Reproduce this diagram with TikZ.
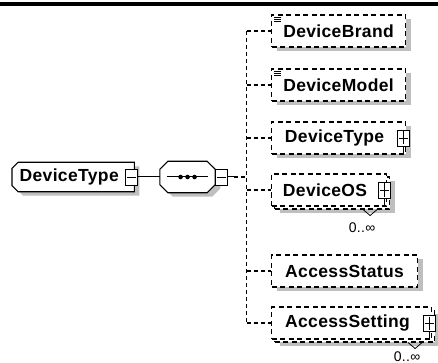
\documentclass[tikz,border=0pt]{standalone}
\usepackage{fontspec}
\setmainfont{Liberation Sans}[LetterSpace=2]
\usepackage{tikz}
\usetikzlibrary{calc,positioning,shadows,backgrounds}
\definecolor{shade}{gray}{0.75}

\begin{document}
\begin{tikzpicture}
    [x=1pt,y=-1pt,
    every node/.style={font=\fontsize{17.5}{20}\selectfont\bfseries},
    conn/.style={line width=1.1pt,dash pattern=on 4pt off 3pt},
    elembox/.style={draw,line width=1.1pt,dash pattern=on 5pt off 3.5pt,fill=white,
      minimum height=32pt,inner xsep=4pt,anchor=west},
    elem/.style={elembox,
      drop shadow={shadow xshift=5pt,shadow yshift=-4pt,fill=shade,opacity=1}},
    multi/.style={elembox,
      drop shadow={shadow xshift=8pt,shadow yshift=-7pt,fill=shade,opacity=1},
      copy shadow={shadow xshift=3pt,shadow yshift=-3pt,draw,fill=white,
        line width=1.1pt,dash pattern=on 5pt off 3.5pt}},
    haskids/.style={execute at end node={\hspace*{8pt}}},
    rootbox/.style={minimum width=122pt,minimum height=29pt,inner xsep=0pt,anchor=west},
    seqbox/.style={minimum width=55pt,minimum height=31pt,inner sep=0pt},
    outline/.style={draw,line width=1.1pt,fill=white,
      drop shadow={shadow xshift=5pt,shadow yshift=-4pt,fill=shade,opacity=1}},
    minusbox/.style={draw,solid,line width=0.9pt,fill=white,inner sep=0pt,
      minimum width=12pt,minimum height=16pt,
      path picture={\draw[line width=0.9pt] ([xshift=1.5pt]path picture bounding box.west)
        -- ([xshift=-1.5pt]path picture bounding box.east);}},
    plusbox/.style={minusbox,
      path picture={\draw[line width=0.9pt] ([xshift=1.5pt]path picture bounding box.west)
        -- ([xshift=-1.5pt]path picture bounding box.east)
        ([yshift=-1.5pt]path picture bounding box.north)
        -- ([yshift=1.5pt]path picture bounding box.south);}},
    occ/.style={font=\fontsize{14}{16}\selectfont,inner sep=0pt}]
  \useasboundingbox (0,0) rectangle (438,363);
  \fill (0,2.5) rectangle (438,6.5);

  % root element and sequence
  \node[rootbox,execute at end node={\hspace*{8pt}}] (root) at (12,177) {DeviceType};
  \node[minusbox] (rootminus) at ([xshift=-3pt]root.east) {};
  \node[seqbox,right=22pt of rootminus] (seq) {};
  \begin{scope}[on background layer]
    \path[outline] ([xshift=6pt]root.north west) -- (root.north east)
      -- (root.south east) -- ([xshift=6pt]root.south west)
      -- ([yshift=6pt]root.south west) -- ([yshift=-6pt]root.north west) -- cycle;
    \path[outline] ([xshift=8pt]seq.north west) -- ([xshift=-8pt]seq.north east)
      -- ([yshift=-8pt]seq.north east) -- ([yshift=8pt]seq.south east)
      -- ([xshift=-8pt]seq.south east) -- ([xshift=8pt]seq.south west)
      -- ([yshift=8pt]seq.south west) -- ([yshift=-8pt]seq.north west) -- cycle;
  \end{scope}
  \draw[line width=1pt] ([xshift=7pt]seq.west) -- ([xshift=-7pt]seq.east);
  \foreach \dx in {-7pt,0pt,7pt}
    \fill ([xshift=\dx]seq.center) circle (2.3pt);
  \node[minusbox] (seqminus) at ([xshift=6pt]seq.east) {};
  \coordinate[right=19pt of seqminus] (spine);

  % children
  \node[elem,minimum width=134pt] (brand) at (271,31) {DeviceBrand};
  \node[elem,minimum width=134pt] (model) at (271,85) {DeviceModel};
  \node[elem,haskids,minimum width=134pt] (type) at (271,138) {DeviceType};
  \node[multi,haskids,minimum width=115pt] (os) at (271,190) {DeviceOS};
  \node[elem,minimum width=146pt] (status) at (271,271) {AccessStatus};
  \node[multi,haskids,minimum width=160pt] (setting) at (271,323) {AccessSetting};

  \foreach \n in {brand,model}{
    \foreach \k in {0,1,2}
      \draw[line width=0.7pt] ([shift={(3,2.5+2.3*\k)}]\n.north west) -- ++(7,0);
  }
  \foreach \n in {type,os,setting}{
    \node[plusbox] (\n plus) at ([xshift=-3pt]\n.east) {};
    \draw[line width=0.9pt] (\n plus.south) -- (\n plus.south |- \n.south);
  }
  \foreach \n in {os,setting}
    \draw[line width=0.8pt] ([shift={(-24,3)}]\n.south east) -- ++(7,6) -- ++(7,-6);
  \node[occ] (osocc) at ([shift={(-25,21)}]os.south east) {0..∞};
  \node[occ] (settingocc) at ([shift={(-25,17)}]setting.south east) {0..∞};

  % connectors
  \draw[line width=1pt] (rootminus.east) -- (seq.west);
  \draw[line width=1pt] (seqminus.east) -- ++(6,0) coordinate (seqout);
  \draw[conn] (seqout) -- (spine);
  \draw[conn] (spine |- brand.west) -- (spine |- setting.west);
  \foreach \n in {brand,model,type,os,status,setting}
    \draw[conn] (spine |- \n.west) -- (\n.west);
\end{tikzpicture}
\end{document}
